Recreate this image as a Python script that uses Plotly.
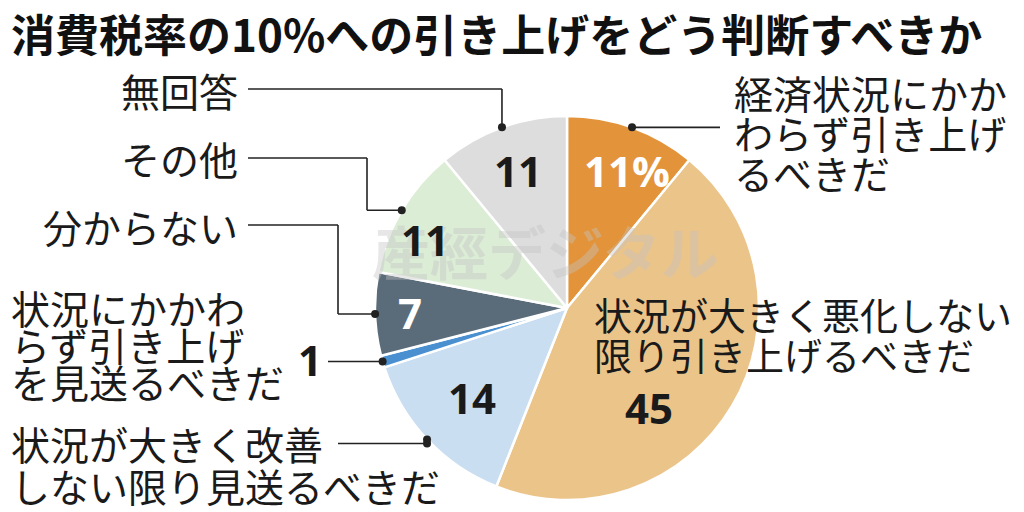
import math
import plotly.graph_objects as go

# the page has an 8px body margin, so the figure is a bit smaller and all
# pixel positions below are given in screenshot pixels and shifted back
OFF = 8
W, H = 1024 - OFF, 512 - OFF

# data
labels = [
    "経済状況にかかわらず引き上げるべきだ",
    "状況が大きく悪化しない限り引き上げるべきだ",
    "状況が大きく改善しない限り見送るべきだ",
    "状況にかかわらず引き上げを見送るべきだ",
    "分からない",
    "その他",
    "無回答",
]
values = [11, 45, 14, 1, 7, 11, 11]
value_text = ["11%", "45", "14", "1", "7", "11", "11"]
colors = ["#E3943A", "#EBC48A", "#CADEF2", "#4A90D0", "#5A6B79", "#DCEDD6", "#DDDDDD"]
text_colors = ["white", "#1a1a1a", "#1a1a1a", "#1a1a1a", "white", "#1a1a1a", "#1a1a1a"]

title = "消費税率の10%への引き上げをどう判断すべきか"

# pie geometry in screenshot pixels
CX, CY, R = 567, 308, 192
JP = "Noto Sans CJK JP"


def px(x):
    return (x - OFF) / W


def py(y):
    return 1 - (y - OFF) / H


total = sum(values)
mids = []
acc = 0
for v in values:
    mids.append((acc + v / 2) / total * 360)
    acc += v


def on_pie(angle, frac=1.0):
    a = math.radians(angle)
    return CX + R * frac * math.sin(a), CY - R * frac * math.cos(a)


fig = go.Figure(go.Pie(
    labels=labels,
    values=values,
    sort=False,
    direction="clockwise",
    rotation=0,
    marker=dict(colors=colors, line=dict(color="white", width=2.5)),
    textinfo="none",
    hoverinfo="label+value",
    showlegend=False,
    domain=dict(x=[px(CX - R), px(CX + R)], y=[py(CY + R), py(CY - R)]),
))

annotations = []
shapes = []


def text(x, y, s, size=39, anchor="left", bold=False, color="#1a1a1a", family=JP):
    annotations.append(dict(
        x=px(x), y=py(y), xref="paper", yref="paper", text=f"<b>{s}</b>" if bold else s,
        showarrow=False, xanchor=anchor, yanchor="middle",
        font=dict(family=family, size=size, color=color),
    ))


def seg(x0, y0, x1, y1):
    shapes.append(dict(type="line", xref="paper", yref="paper",
                       x0=px(x0), y0=py(y0), x1=px(x1), y1=py(y1),
                       line=dict(color="#222", width=1.6)))


def dot(x, y, r=4):
    shapes.append(dict(type="circle", xref="paper", yref="paper",
                       x0=px(x - r), y0=py(y - r), x1=px(x + r), y1=py(y + r),
                       fillcolor="#222", line=dict(width=0)))


# title
text(9, 33, title, size=44, bold=True, color="#111")

# watermark
text(545, 250, "産經デジタル", size=58, anchor="center", bold=True,
     color="rgba(195,195,195,0.4)")

# numbers inside slices (radius fraction / angle shift per slice)
inside = {0: (0.78, 4), 1: (0.67, 20), 2: (0.68, 0), 4: (0.82, 0), 5: (0.82, -5), 6: (0.76, 0)}
for i, (frac, shift) in inside.items():
    x, y = on_pie(mids[i] + shift, frac)
    text(x, y, value_text[i], size=42, anchor="center", bold=True,
         color=text_colors[i], family="Open Sans")

# leader dots on the rim
d = {i: on_pie(mids[i]) for i in [0, 2, 3, 4, 5, 6]}
for i in d:
    dot(*d[i])

# 経済状況にかかわらず... (right, top)
x0, y0 = d[0]
seg(x0, y0, 720, y0)
for k, line in enumerate(["経済状況にかか", "わらず引き上げ", "るべきだ"]):
    text(732, 92 + 40 * k, line)

# 状況が大きく悪化しない限り...
for k, line in enumerate(["状況が大きく悪化しない", "限り引き上げるべきだ"]):
    text(592, 313 + 40 * k, line, size=38)

# 無回答
x6, y6 = d[6]
seg(248, 89, x6, 89)
seg(x6, 89, x6, y6)
text(240, 90, "無回答", anchor="right")

# その他
x5, y5 = d[5]
seg(248, 158, 367, 158)
seg(367, 158, 367, y5)
seg(367, y5, x5, y5)
text(240, 158, "その他", anchor="right")

# 分からない
x4, y4 = d[4]
seg(248, 225, 338, 225)
seg(338, 225, 338, y4)
seg(338, y4, x4, y4)
text(240, 226, "分からない", anchor="right")

# 状況にかかわらず引き上げを見送るべきだ
x3, y3 = d[3]
seg(328, y3, x3, y3)
text(310, y3 - 2, value_text[3], size=42, anchor="center", bold=True, family="Open Sans")
for k, line in enumerate(["状況にかかわ", "らず引き上げ", "を見送るべきだ"]):
    text(9, 307 + 37 * k, line)

# 状況が大きく改善しない限り見送るべきだ
x2, y2 = d[2]
seg(338, y2 + 4, x2, y2 + 4)
dot(x2, y2 + 4)
for k, line in enumerate(["状況が大きく改善", "しない限り見送るべきだ"]):
    text(9, 443 + 42 * k, line)

fig.update_layout(
    width=W, height=H,
    margin=dict(l=0, r=0, t=0, b=0),
    paper_bgcolor="white",
    plot_bgcolor="white",
    annotations=annotations,
    shapes=shapes,
)

fig.write_html("out.html")
